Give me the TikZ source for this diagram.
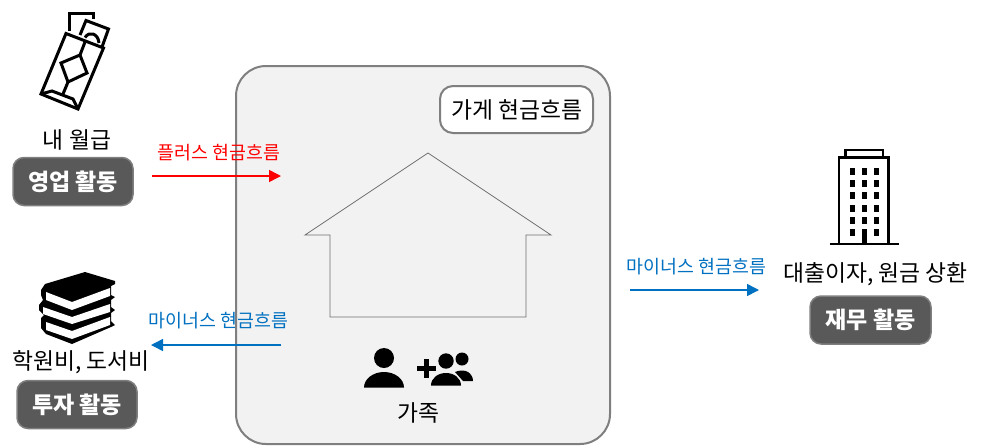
\documentclass[tikz,border=0pt]{standalone}
\usepackage{fontspec}
\setmainfont{Noto Sans CJK KR}
\usetikzlibrary{arrows.meta}
\definecolor{badgefill}{HTML}{595959}
\definecolor{badgeedge}{HTML}{7F7F7F}
\definecolor{panelfill}{HTML}{F2F2F2}
\definecolor{flowblue}{HTML}{0070C0}
\definecolor{houseedge}{HTML}{6E6E6E}
\tikzset{
 badge/.style={draw=badgeedge,line width=1.5pt,fill=badgefill,rounded corners=11pt,text=white,font=\fontsize{23}{25}\selectfont\bfseries,inner sep=0pt,anchor=center},
 caption/.style={font=\fontsize{22.8}{25}\selectfont,text=black,inner sep=0pt,anchor=center},
 flowlabel/.style={font=\fontsize{18.4}{20}\selectfont,inner sep=0pt,anchor=center},
 flow/.style={line width=1.5pt,-{Triangle[length=12pt,width=12pt]}},
 icon/.style={draw=black,line width=3pt,line join=miter},
}
\begin{document}
\begin{tikzpicture}[x=1pt,y=-1pt]
\useasboundingbox (0,0) rectangle (981,445);
% panel
\node[draw=badgeedge,line width=2pt,fill=panelfill,rounded corners=30pt,minimum width=374pt,minimum height=378pt,inner sep=0pt] (panel) at (423,255) {};
\node[draw=badgeedge,line width=2pt,fill=white,rounded corners=13pt,minimum width=153pt,minimum height=47pt,inner sep=0pt,caption] (title) at (516.5,109.5) {가게 현금흐름};
% house
\draw[draw=houseedge,line width=0.8pt] (428,153) -- (551,235) -- (526,235) -- (526,317) -- (330,317) -- (330,235) -- (305,235) -- cycle;
% money icon
\draw[icon] (69,31) -- (69,13) -- (93,13) -- (93,19);
\draw[icon] (80,35) -- (86,20.5) -- (108.5,29) -- (102,47);
\draw[icon] (85,37.5) .. controls (89,31) and (98,33) .. (99,43);
\draw[icon] (66,33.5) -- (103.5,48) -- (78,109) -- (41,94) -- cycle;
\draw[icon] (41,94) -- (52,91) -- (73,99) -- (78,109);
\draw[icon] (80,55) -- (87,73) -- (68,82) -- (61,63) -- cycle;
\draw[icon] (80,55) -- (85,42);
\draw[icon] (68,82) -- (63,94);
% books
\fill[black] (85,272) -- (115,281) -- (115,284) -- (111,286) -- (111,295) -- (115,297) -- (111,300) -- (111,307) -- (115,310) -- (111,313) -- (111,321) -- (115,325) -- (111,327) -- (72,344) -- (46,334) -- (41,328) -- (41,318) -- (44,315) -- (39,310) -- (39,305) -- (43,300) -- (41,295) -- (41,290) -- (45,284) -- cycle;
\fill[white] (46,292) -- (72,302) -- (110,288) -- (110,296) -- (72,310) -- (46,300) -- cycle;
\fill[white] (43,307) -- (72,317) -- (110,304) -- (110,312) -- (72,324) -- (43,314) -- cycle;
\fill[white] (46,322) -- (72,331) -- (110,317) -- (110,325) -- (72,339) -- (46,330) -- cycle;
% building
\draw[icon,line width=2.2pt] (845.5,157) -- (845.5,150) -- (883,150) -- (883,157);
\draw[icon,line width=2.2pt] (839,244) -- (839,157.5) -- (888.5,157.5) -- (888.5,244);
\draw[icon,line width=2.2pt] (829.5,244) -- (898.5,244);
\foreach \wx in {849.5,861.5,873.5} \foreach \wy in {167.5,180,192,204.5,216.5}
  \fill[black] (\wx,\wy) rectangle ++(5,7);
\fill[black] (849.5,229) rectangle ++(5,7);
\fill[black] (873.5,229) rectangle ++(5,7);
\fill[black] (861.5,229) rectangle (866.5,244);
% people
\fill[black] (384,358) circle[radius=10];
\fill[black] (364,387.5) .. controls (364,379) and (373,372) .. (384,372) .. controls (395,372) and (404,379) .. (404,387.5) -- cycle;
\fill[black] (416.5,365.5) rectangle (436,370.5);
\fill[black] (423.5,358.5) rectangle (429,378);
\fill[black] (462,359) circle[radius=6.5];
\fill[black] (455,372) .. controls (459,370) and (465,370) .. (468,372) .. controls (471,374) and (473,377) .. (473,381) -- (463,381) -- cycle;
\fill[black] (446,361) circle[radius=7.7];
\fill[black] (431,385.5) .. controls (431,378) and (438,373) .. (446,373) .. controls (454,373) and (461,378) .. (461,385.5) -- cycle;
% captions
\node[caption] (salary) at (77,139.5) {내 월급};
\node[caption] (tuition) at (81,362) {학원비, 도서비};
\node[caption] (loan) at (875.5,274) {대출이자, 원금 상환};
\node[caption] (family) at (418,413) {가족};
% badges
\node[badge,minimum width=120pt,minimum height=48pt] (op) at (73,181.5) {영업 활동};
\node[badge,minimum width=120pt,minimum height=48pt] (inv) at (77,404.5) {투자 활동};
\node[badge,minimum width=121pt,minimum height=48pt] (fin) at (870.5,320) {재무 활동};
% flows
\coordinate (a1) at (152,176);
\coordinate (a2) at (281,176);
\coordinate (b1) at (281,345);
\coordinate (b2) at (151,345);
\coordinate (c1) at (630,290);
\coordinate (c2) at (759,290);
\draw[flow,red] (a1) -- (a2);
\draw[flow,flowblue] (b1) -- (b2);
\draw[flow,flowblue] (c1) -- (c2);
\node[flowlabel,text=red] (la) at (219,153) {플러스 현금흐름};
\node[flowlabel,text=flowblue] (lb) at (218.5,321) {마이너스 현금흐름};
\node[flowlabel,text=flowblue] (lc) at (696.5,267) {마이너스 현금흐름};
\end{tikzpicture}
\end{document}
